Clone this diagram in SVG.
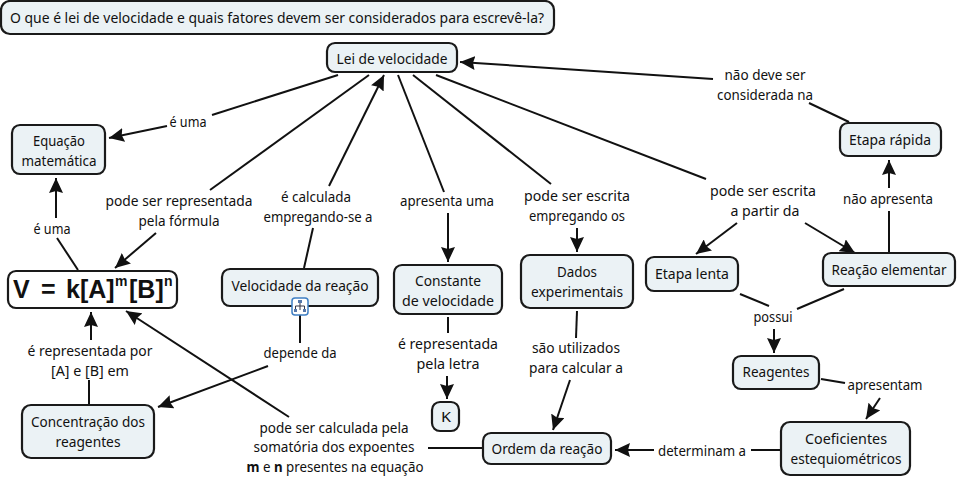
<svg xmlns="http://www.w3.org/2000/svg" width="958" height="478" viewBox="0 0 958 478">
<style>
text{font-family:"Noto Sans","DejaVu Sans",sans-serif;font-size:14px;fill:#111;text-anchor:middle}
.n{fill:#ebf2f5;stroke:#1a1a1a;stroke-width:2.2}
.c line{stroke:#111;stroke-width:2;marker-end:none}
.c line.a{marker-end:url(#h)}
.f{font-family:"Liberation Sans",sans-serif;font-weight:bold;font-size:25px;text-anchor:start}
.s{font-family:"Liberation Sans",sans-serif;font-weight:bold;font-size:14px;text-anchor:start}
</style>
<defs>
<marker id="h" markerUnits="userSpaceOnUse" markerWidth="16" markerHeight="14" refX="15" refY="7" orient="auto"><path d="M0 0L15 7L0 14L2 7Z" fill="#111"/></marker>
</defs>
<rect width="958" height="478" fill="#fff"/>
<g id="connectors" class="c">
<line x1="338" y1="75" x2="212" y2="115"/><line class="a" x1="167" y1="126" x2="109" y2="138"/>
<line x1="369" y1="75" x2="210" y2="190"/><line class="a" x1="156" y1="233" x2="115" y2="268"/>
<line x1="304" y1="268" x2="313" y2="228"/><line class="a" x1="329" y1="186" x2="384" y2="75"/>
<line x1="398" y1="75" x2="444" y2="192"/><line class="a" x1="448" y1="213" x2="448" y2="262"/>
<line x1="413" y1="75" x2="551" y2="184"/><line class="a" x1="577" y1="228" x2="577" y2="252"/>
<line x1="436" y1="75" x2="706" y2="179"/><line class="a" x1="737" y1="223" x2="696" y2="254"/><line class="a" x1="805" y1="223" x2="855" y2="253"/>
<line x1="889" y1="252" x2="889" y2="211"/><line class="a" x1="889" y1="188" x2="889" y2="160"/>
<line x1="849" y1="122" x2="809" y2="103"/><line class="a" x1="713" y1="79" x2="460" y2="62"/>
<line x1="577" y1="311" x2="576" y2="338"/><line class="a" x1="570" y1="380" x2="553" y2="430"/>
<line x1="448" y1="317" x2="448" y2="333"/><line class="a" x1="447" y1="376" x2="447" y2="399"/>
<line x1="300" y1="312" x2="300" y2="343"/><line class="a" x1="268" y1="366" x2="158" y2="407"/>
<line x1="89" y1="404" x2="89" y2="380"/><line class="a" x1="91" y1="340" x2="91" y2="312"/>
<line x1="78" y1="270" x2="57" y2="238"/><line class="a" x1="56" y1="218" x2="56" y2="178"/>
<line class="a" x1="289" y1="417" x2="126" y2="311"/><line x1="428" y1="448" x2="483" y2="448"/>
<line x1="740" y1="294" x2="769" y2="306"/><line x1="844" y1="289" x2="797" y2="309"/><line class="a" x1="774" y1="329" x2="774" y2="353"/>
<line x1="821" y1="379" x2="845" y2="383"/><line class="a" x1="880" y1="398" x2="866" y2="419"/>
<line x1="780" y1="450" x2="751" y2="450"/><line class="a" x1="654" y1="450" x2="615" y2="450"/>
</g>
<g id="labels">
<text x="188" y="127" textLength="37" lengthAdjust="spacingAndGlyphs">é uma</text>
<text x="52" y="234" textLength="37" lengthAdjust="spacingAndGlyphs">é uma</text>
<text x="179" y="206" textLength="147" lengthAdjust="spacingAndGlyphs">pode ser representada</text>
<text x="179" y="226" textLength="81" lengthAdjust="spacingAndGlyphs">pela fórmula</text>
<text x="316" y="202" textLength="70" lengthAdjust="spacingAndGlyphs">é calculada</text>
<text x="318" y="222" textLength="109" lengthAdjust="spacingAndGlyphs">empregando-se a</text>
<text x="447" y="206" textLength="94" lengthAdjust="spacingAndGlyphs">apresenta uma</text>
<text x="577" y="201" textLength="106" lengthAdjust="spacingAndGlyphs">pode ser escrita</text>
<text x="577" y="221" textLength="96" lengthAdjust="spacingAndGlyphs">empregando os</text>
<text x="763" y="196" textLength="106" lengthAdjust="spacingAndGlyphs">pode ser escrita</text>
<text x="765" y="216" textLength="69" lengthAdjust="spacingAndGlyphs">a partir da</text>
<text x="888" y="204" textLength="90" lengthAdjust="spacingAndGlyphs">não apresenta</text>
<text x="765" y="80" textLength="81" lengthAdjust="spacingAndGlyphs">não deve ser</text>
<text x="765" y="100" textLength="96" lengthAdjust="spacingAndGlyphs">considerada na</text>
<text x="300" y="358" textLength="73" lengthAdjust="spacingAndGlyphs">depende da</text>
<text x="90" y="356" textLength="125" lengthAdjust="spacingAndGlyphs">é representada por</text>
<text x="90" y="376" textLength="78" lengthAdjust="spacingAndGlyphs">[A] e [B] em</text>
<text x="448" y="349" textLength="100" lengthAdjust="spacingAndGlyphs">é representada</text>
<text x="448" y="369" textLength="63" lengthAdjust="spacingAndGlyphs">pela letra</text>
<text x="576" y="353" textLength="88" lengthAdjust="spacingAndGlyphs">são utilizados</text>
<text x="576" y="373" textLength="94" lengthAdjust="spacingAndGlyphs">para calcular a</text>
<text x="773" y="322" textLength="39" lengthAdjust="spacingAndGlyphs">possui</text>
<text x="885" y="390" textLength="75" lengthAdjust="spacingAndGlyphs">apresentam</text>
<text x="702" y="456" textLength="88" lengthAdjust="spacingAndGlyphs">determinam a</text>
<text x="334" y="433" textLength="149" lengthAdjust="spacingAndGlyphs">pode ser calculada pela</text>
<text x="334" y="452" textLength="161" lengthAdjust="spacingAndGlyphs">somatória dos expoentes</text>
<text x="335" y="472" textLength="177" lengthAdjust="spacingAndGlyphs"><tspan font-weight="bold">m</tspan> e <tspan font-weight="bold">n</tspan> presentes na equação</text>
</g>
<g id="n-titulo"><rect class="n" x="1" y="1" width="553" height="33" rx="9"/><text x="277" y="23" textLength="534" lengthAdjust="spacingAndGlyphs">O que é lei de velocidade e quais fatores devem ser considerados para escrevê-la?</text></g>
<g id="n-lei"><rect class="n" x="327" y="43" width="130" height="29" rx="8"/><text x="392" y="64" textLength="111" lengthAdjust="spacingAndGlyphs">Lei de velocidade</text></g>
<g id="n-equacao"><rect class="n" x="12" y="125" width="93" height="49" rx="8"/><text x="59" y="146" textLength="52" lengthAdjust="spacingAndGlyphs">Equação</text><text x="59" y="166" textLength="75" lengthAdjust="spacingAndGlyphs">matemática</text></g>
<g id="n-formula"><rect x="8" y="271" width="169" height="37" rx="8" fill="#fff" stroke="#1a1a1a" stroke-width="2.2"/>
<text class="f" x="13" y="298">V</text><text class="f" x="41" y="298">=</text>
<text class="f" x="66" y="298">k[A]</text><text class="s" x="115" y="286">m</text>
<text class="f" x="129" y="298">[B]</text><text class="s" x="164" y="286">n</text></g>
<g id="n-velocidade"><rect class="n" x="222" y="269" width="156" height="37" rx="8"/><text x="300" y="291" textLength="137" lengthAdjust="spacingAndGlyphs">Velocidade da reação</text>
<rect x="292" y="298" width="16" height="17" rx="3" fill="#fff" stroke="#3f7fc4" stroke-width="1.5"/><path d="M300 300V304M295.500 310V306H304.500V310M300 304V310" fill="none" stroke="#334" stroke-width="1"/><rect x="298" y="300" width="4" height="3" fill="#5577aa"/><rect x="294" y="309" width="3" height="3" fill="#5577aa"/><rect x="303" y="309" width="3" height="3" fill="#5577aa"/></g>
<g id="n-constante"><rect class="n" x="394" y="265" width="108" height="49" rx="8"/><text x="448" y="286" textLength="66" lengthAdjust="spacingAndGlyphs">Constante</text><text x="448" y="306" textLength="92" lengthAdjust="spacingAndGlyphs">de velocidade</text></g>
<g id="n-dados"><rect class="n" x="521" y="255" width="112" height="53" rx="9"/><text x="577" y="277" textLength="40" lengthAdjust="spacingAndGlyphs">Dados</text><text x="577" y="297" textLength="92" lengthAdjust="spacingAndGlyphs">experimentais</text></g>
<g id="n-lenta"><rect class="n" x="646" y="257" width="92" height="34" rx="8"/><text x="692" y="279" textLength="74" lengthAdjust="spacingAndGlyphs">Etapa lenta</text></g>
<g id="n-elementar"><rect class="n" x="823" y="253" width="132" height="33" rx="8"/><text x="889" y="275" textLength="115" lengthAdjust="spacingAndGlyphs">Reação elementar</text></g>
<g id="n-rapida"><rect class="n" x="840" y="123" width="101" height="33" rx="8"/><text x="890" y="145" textLength="82" lengthAdjust="spacingAndGlyphs">Etapa rápida</text></g>
<g id="n-reagentes"><rect class="n" x="733" y="356" width="86" height="33" rx="8"/><text x="776" y="377" textLength="67" lengthAdjust="spacingAndGlyphs">Reagentes</text></g>
<g id="n-coeficientes"><rect class="n" x="781" y="422" width="129" height="53" rx="9"/><text x="846" y="444" textLength="82" lengthAdjust="spacingAndGlyphs">Coeficientes</text><text x="846" y="464" textLength="111" lengthAdjust="spacingAndGlyphs">estequiométricos</text></g>
<g id="n-ordem"><rect class="n" x="483" y="433" width="128" height="31" rx="8"/><text x="547" y="454" textLength="111" lengthAdjust="spacingAndGlyphs">Ordem da reação</text></g>
<g id="n-k"><rect class="n" x="432" y="402" width="27" height="29" rx="8"/><text x="446" y="422" textLength="10" lengthAdjust="spacingAndGlyphs">K</text></g>
<g id="n-concentracao"><rect class="n" x="22" y="405" width="132" height="53" rx="9"/><text x="88" y="427" textLength="114" lengthAdjust="spacingAndGlyphs">Concentração dos</text><text x="88" y="447" textLength="65" lengthAdjust="spacingAndGlyphs">reagentes</text></g>
</svg>
